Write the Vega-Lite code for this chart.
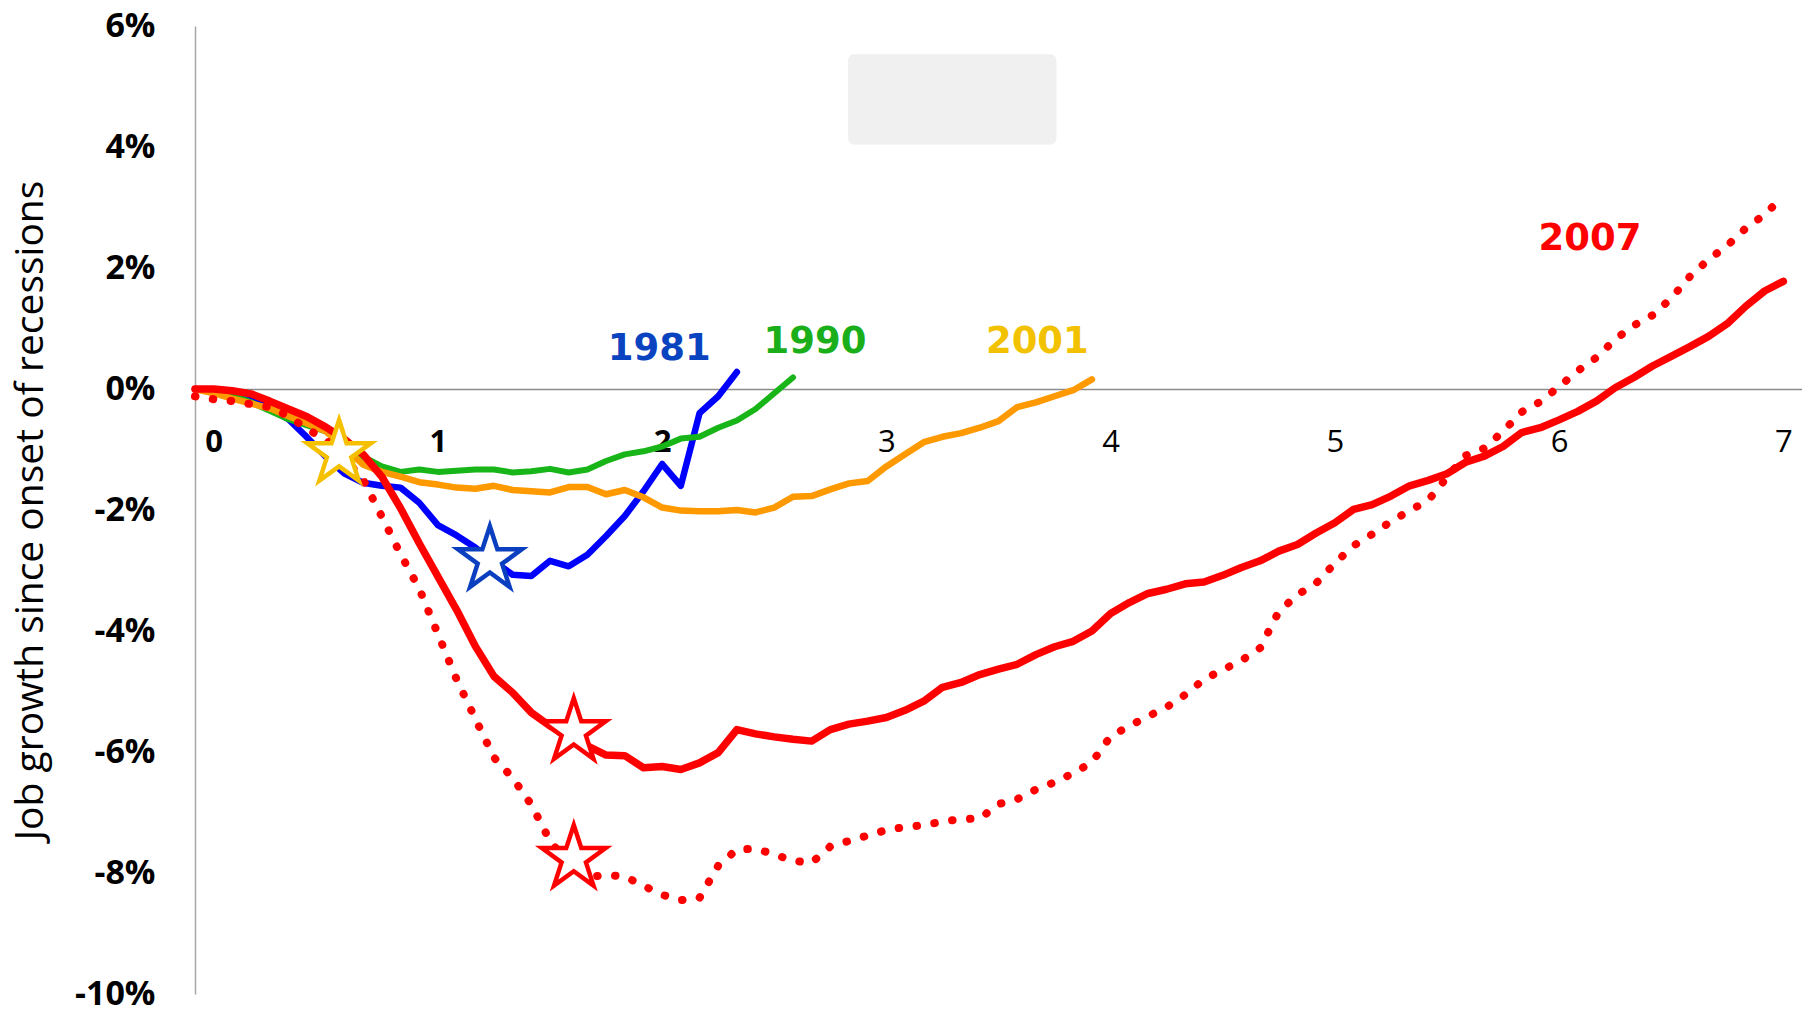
{
  "$schema": "https://vega.github.io/schema/vega-lite/v6.json",
  "width": 1607,
  "height": 968,
  "autosize": {"type": "none"},
  "padding": {"left": 195, "top": 26, "right": 0, "bottom": 19},
  "background": "white",
  "config": {"view": {"stroke": null}, "axis": {"grid": false}},
  "datasets": {
    "box": [{"m": 33.95, "m2": 45.1, "v": 5.531, "v2": 4.043}],
    "r1981": [
      {"m": -1, "v": 0}, {"m": 0, "v": -0.02}, {"m": 1, "v": -0.06}, {"m": 2, "v": -0.12}, {"m": 3, "v": -0.28},
      {"m": 4, "v": -0.5}, {"m": 5, "v": -0.8}, {"m": 6, "v": -1.12}, {"m": 7, "v": -1.4}, {"m": 8, "v": -1.55},
      {"m": 9, "v": -1.6}, {"m": 10, "v": -1.63}, {"m": 11, "v": -1.88}, {"m": 12, "v": -2.25}, {"m": 13, "v": -2.42},
      {"m": 14, "v": -2.62}, {"m": 15, "v": -2.85}, {"m": 16, "v": -3.07}, {"m": 17, "v": -3.09}, {"m": 18, "v": -2.84},
      {"m": 19, "v": -2.93}, {"m": 20, "v": -2.74}, {"m": 21, "v": -2.43}, {"m": 22, "v": -2.1}, {"m": 23, "v": -1.69},
      {"m": 24, "v": -1.24}, {"m": 25, "v": -1.6}, {"m": 26, "v": -0.4}, {"m": 27, "v": -0.12}, {"m": 28, "v": 0.28}
    ],
    "r1990": [
      {"m": -1, "v": 0}, {"m": 0, "v": -0.03}, {"m": 1, "v": -0.1}, {"m": 2, "v": -0.22}, {"m": 3, "v": -0.36},
      {"m": 4, "v": -0.5}, {"m": 5, "v": -0.6}, {"m": 6, "v": -0.7}, {"m": 7, "v": -0.93}, {"m": 8, "v": -1.12},
      {"m": 9, "v": -1.28}, {"m": 10, "v": -1.37}, {"m": 11, "v": -1.33}, {"m": 12, "v": -1.37}, {"m": 13, "v": -1.35},
      {"m": 14, "v": -1.33}, {"m": 15, "v": -1.33}, {"m": 16, "v": -1.38}, {"m": 17, "v": -1.36}, {"m": 18, "v": -1.32},
      {"m": 19, "v": -1.38}, {"m": 20, "v": -1.33}, {"m": 21, "v": -1.19}, {"m": 22, "v": -1.08}, {"m": 23, "v": -1.03},
      {"m": 24, "v": -0.95}, {"m": 25, "v": -0.82}, {"m": 26, "v": -0.79}, {"m": 27, "v": -0.64}, {"m": 28, "v": -0.52},
      {"m": 29, "v": -0.33}, {"m": 30, "v": -0.07}, {"m": 31, "v": 0.19}
    ],
    "r2001": [
      {"m": -1, "v": 0}, {"m": 0, "v": -0.07}, {"m": 1, "v": -0.16}, {"m": 2, "v": -0.24}, {"m": 3, "v": -0.32},
      {"m": 4, "v": -0.45}, {"m": 5, "v": -0.57}, {"m": 6, "v": -0.7}, {"m": 7, "v": -0.97}, {"m": 8, "v": -1.25},
      {"m": 9, "v": -1.37}, {"m": 10, "v": -1.45}, {"m": 11, "v": -1.54}, {"m": 12, "v": -1.58}, {"m": 13, "v": -1.63},
      {"m": 14, "v": -1.65}, {"m": 15, "v": -1.6}, {"m": 16, "v": -1.67}, {"m": 17, "v": -1.69}, {"m": 18, "v": -1.71},
      {"m": 19, "v": -1.62}, {"m": 20, "v": -1.62}, {"m": 21, "v": -1.74}, {"m": 22, "v": -1.67}, {"m": 23, "v": -1.79},
      {"m": 24, "v": -1.96}, {"m": 25, "v": -2.01}, {"m": 26, "v": -2.02}, {"m": 27, "v": -2.02}, {"m": 28, "v": -2.0},
      {"m": 29, "v": -2.04}, {"m": 30, "v": -1.96}, {"m": 31, "v": -1.78}, {"m": 32, "v": -1.77}, {"m": 33, "v": -1.66},
      {"m": 34, "v": -1.56}, {"m": 35, "v": -1.52}, {"m": 36, "v": -1.28}, {"m": 37, "v": -1.08}, {"m": 38, "v": -0.88},
      {"m": 39, "v": -0.79}, {"m": 40, "v": -0.73}, {"m": 41, "v": -0.64}, {"m": 42, "v": -0.53}, {"m": 43, "v": -0.3},
      {"m": 44, "v": -0.22}, {"m": 45, "v": -0.12}, {"m": 46, "v": -0.02}, {"m": 47, "v": 0.16}
    ],
    "r2007dot": [
      {"m": -1, "v": -0.12}, {"m": 0, "v": -0.17}, {"m": 1, "v": -0.2}, {"m": 2, "v": -0.25}, {"m": 3, "v": -0.3},
      {"m": 4, "v": -0.45}, {"m": 5, "v": -0.66}, {"m": 6, "v": -0.84}, {"m": 7, "v": -1.14}, {"m": 8, "v": -1.5},
      {"m": 9, "v": -2.11}, {"m": 10, "v": -2.73}, {"m": 11, "v": -3.3}, {"m": 12, "v": -4.05}, {"m": 13, "v": -4.8},
      {"m": 14, "v": -5.45}, {"m": 15, "v": -6.09}, {"m": 16, "v": -6.43}, {"m": 17, "v": -6.87}, {"m": 18, "v": -7.47},
      {"m": 19, "v": -7.85}, {"m": 20, "v": -8.07}, {"m": 21, "v": -8.03}, {"m": 22, "v": -8.06}, {"m": 23, "v": -8.21},
      {"m": 24, "v": -8.36}, {"m": 25, "v": -8.45}, {"m": 26, "v": -8.41}, {"m": 27, "v": -7.88}, {"m": 28, "v": -7.61},
      {"m": 29, "v": -7.6}, {"m": 30, "v": -7.69}, {"m": 31, "v": -7.8}, {"m": 32, "v": -7.83}, {"m": 33, "v": -7.56},
      {"m": 34, "v": -7.47}, {"m": 35, "v": -7.38}, {"m": 36, "v": -7.29}, {"m": 37, "v": -7.24}, {"m": 38, "v": -7.21},
      {"m": 39, "v": -7.15}, {"m": 40, "v": -7.11}, {"m": 41, "v": -7.1}, {"m": 42, "v": -6.86}, {"m": 43, "v": -6.78},
      {"m": 44, "v": -6.62}, {"m": 45, "v": -6.5}, {"m": 46, "v": -6.35}, {"m": 47, "v": -6.17}, {"m": 48, "v": -5.74},
      {"m": 49, "v": -5.57}, {"m": 50, "v": -5.41}, {"m": 51, "v": -5.26}, {"m": 52, "v": -5.05}, {"m": 53, "v": -4.8},
      {"m": 54, "v": -4.64}, {"m": 55, "v": -4.49}, {"m": 56, "v": -4.28}, {"m": 57, "v": -3.68}, {"m": 58, "v": -3.4},
      {"m": 59, "v": -3.21}, {"m": 60, "v": -2.88}, {"m": 61, "v": -2.59}, {"m": 62, "v": -2.4}, {"m": 63, "v": -2.19},
      {"m": 64, "v": -2.01}, {"m": 65, "v": -1.84}, {"m": 66, "v": -1.46}, {"m": 67, "v": -1.1}, {"m": 68, "v": -0.98},
      {"m": 69, "v": -0.7}, {"m": 70, "v": -0.38}, {"m": 71, "v": -0.21}, {"m": 72, "v": 0.04}, {"m": 73, "v": 0.3},
      {"m": 74, "v": 0.52}, {"m": 75, "v": 0.82}, {"m": 76, "v": 1.05}, {"m": 77, "v": 1.22}, {"m": 78, "v": 1.5},
      {"m": 79, "v": 1.86}, {"m": 80, "v": 2.14}, {"m": 81, "v": 2.37}, {"m": 82, "v": 2.66}, {"m": 83, "v": 2.88},
      {"m": 84, "v": 3.19}
    ],
    "r2007": [
      {"m": -1, "v": 0}, {"m": 0, "v": 0}, {"m": 1, "v": -0.03}, {"m": 2, "v": -0.08}, {"m": 3, "v": -0.2},
      {"m": 4, "v": -0.33}, {"m": 5, "v": -0.46}, {"m": 6, "v": -0.63}, {"m": 7, "v": -0.83}, {"m": 8, "v": -1.08},
      {"m": 9, "v": -1.45}, {"m": 10, "v": -1.97}, {"m": 11, "v": -2.55}, {"m": 12, "v": -3.1}, {"m": 13, "v": -3.65},
      {"m": 14, "v": -4.25}, {"m": 15, "v": -4.75}, {"m": 16, "v": -5.02}, {"m": 17, "v": -5.35}, {"m": 18, "v": -5.57},
      {"m": 19, "v": -5.75}, {"m": 20, "v": -5.9}, {"m": 21, "v": -6.05}, {"m": 22, "v": -6.06}, {"m": 23, "v": -6.26},
      {"m": 24, "v": -6.24}, {"m": 25, "v": -6.29}, {"m": 26, "v": -6.18}, {"m": 27, "v": -6.01}, {"m": 28, "v": -5.63},
      {"m": 29, "v": -5.7}, {"m": 30, "v": -5.75}, {"m": 31, "v": -5.79}, {"m": 32, "v": -5.82}, {"m": 33, "v": -5.63},
      {"m": 34, "v": -5.54}, {"m": 35, "v": -5.49}, {"m": 36, "v": -5.43}, {"m": 37, "v": -5.31}, {"m": 38, "v": -5.16},
      {"m": 39, "v": -4.93}, {"m": 40, "v": -4.85}, {"m": 41, "v": -4.72}, {"m": 42, "v": -4.63}, {"m": 43, "v": -4.55},
      {"m": 44, "v": -4.39}, {"m": 45, "v": -4.26}, {"m": 46, "v": -4.17}, {"m": 47, "v": -4.0}, {"m": 48, "v": -3.71},
      {"m": 49, "v": -3.53}, {"m": 50, "v": -3.38}, {"m": 51, "v": -3.31}, {"m": 52, "v": -3.22}, {"m": 53, "v": -3.19},
      {"m": 54, "v": -3.08}, {"m": 55, "v": -2.95}, {"m": 56, "v": -2.84}, {"m": 57, "v": -2.68}, {"m": 58, "v": -2.57},
      {"m": 59, "v": -2.38}, {"m": 60, "v": -2.21}, {"m": 61, "v": -1.99}, {"m": 62, "v": -1.91}, {"m": 63, "v": -1.77},
      {"m": 64, "v": -1.6}, {"m": 65, "v": -1.51}, {"m": 66, "v": -1.4}, {"m": 67, "v": -1.21}, {"m": 68, "v": -1.11},
      {"m": 69, "v": -0.95}, {"m": 70, "v": -0.72}, {"m": 71, "v": -0.64}, {"m": 72, "v": -0.51}, {"m": 73, "v": -0.37},
      {"m": 74, "v": -0.2}, {"m": 75, "v": 0.02}, {"m": 76, "v": 0.19}, {"m": 77, "v": 0.38}, {"m": 78, "v": 0.54},
      {"m": 79, "v": 0.7}, {"m": 80, "v": 0.87}, {"m": 81, "v": 1.08}, {"m": 82, "v": 1.37}, {"m": 83, "v": 1.62},
      {"m": 84, "v": 1.78}
    ],
    "stars": [
      {"m": 6.71, "v": -1.066, "rec": "2001"},
      {"m": 14.78, "v": -2.822, "rec": "1981"},
      {"m": 19.27, "v": -5.665, "rec": "2007"},
      {"m": 19.27, "v": -7.76, "rec": "2007"}
    ],
    "labels": [
      {"m": 23.84, "v": 0.668, "label": "1981"},
      {"m": 32.18, "v": 0.774, "label": "1990"},
      {"m": 44.08, "v": 0.774, "label": "2001"},
      {"m": 73.66, "v": 2.48, "label": "2007"}
    ]
  },
  "encoding": {
    "x": {
      "field": "m",
      "type": "quantitative",
      "scale": {"domain": [-1, 85], "nice": false, "zero": false},
      "axis": {
        "orient": "bottom",
        "offset": -605,
        "values": [0, 12, 24, 36, 48, 60, 72, 84],
        "labelExpr": "'' + (datum.value / 12)",
        "title": null,
        "ticks": false,
        "tickSize": 0,
        "labelPadding": 53,
        "labelBaseline": "middle",
        "labelFont": "Open Sans",
        "labelFontSize": 31,
        "labelFontWeight": {"condition": {"test": "datum.value <= 24", "value": "bold"}, "value": "normal"},
        "labelColor": "black",
        "labelFlush": false,
        "labelOverlap": false,
        "domainColor": "#8c8c8c",
        "domainWidth": 1.5,
        "grid": false
      }
    },
    "y": {
      "field": "v",
      "type": "quantitative",
      "scale": {"domain": [-10, 6], "nice": false, "zero": false},
      "axis": {
        "orient": "left",
        "values": [-10, -8, -6, -4, -2, 0, 2, 4, 6],
        "labelExpr": "datum.value + '%'",
        "title": "Job growth since onset of recessions",
        "titleFont": "Open Sans",
        "titleFontSize": 39,
        "titleFontWeight": 500,
        "titleColor": "black",
        "titleX": -165,
        "titleY": 484,
        "titleAngle": -90,
        "titleAlign": "center",
        "titleBaseline": "middle",
        "ticks": false,
        "tickSize": 0,
        "labelPadding": 40,
        "labelFont": "Open Sans",
        "labelFontSize": 34,
        "labelFontWeight": "bold",
        "labelColor": "black",
        "labelFlush": false,
        "labelOverlap": false,
        "domainColor": "#a6a6a6",
        "domainWidth": 1.5,
        "grid": false
      }
    }
  },
  "layer": [
    {
      "data": {"name": "box"},
      "mark": {"type": "rect", "color": "#f0f0f0", "cornerRadius": 6},
      "encoding": {"x2": {"field": "m2"}, "y2": {"field": "v2"}}
    },
    {
      "data": {"name": "r1981"},
      "mark": {"type": "line", "color": "#0000ff", "strokeWidth": 6.5, "strokeJoin": "round", "strokeCap": "round"},
      "encoding": {}
    },
    {
      "data": {"name": "r1990"},
      "mark": {"type": "line", "color": "#17b517", "strokeWidth": 6, "strokeJoin": "round", "strokeCap": "round"},
      "encoding": {}
    },
    {
      "data": {"name": "r2001"},
      "mark": {"type": "line", "color": "#ff9900", "strokeWidth": 6.5, "strokeJoin": "round", "strokeCap": "round"},
      "encoding": {}
    },
    {
      "data": {"name": "r2007dot"},
      "mark": {"type": "line", "color": "#ff0000", "strokeWidth": 8, "strokeCap": "round", "strokeJoin": "round", "strokeDash": [0.5, 17.5]},
      "encoding": {}
    },
    {
      "data": {"name": "r2007"},
      "mark": {"type": "line", "color": "#ff0000", "strokeWidth": 7.5, "strokeJoin": "round", "strokeCap": "round"},
      "encoding": {}
    },
    {
      "data": {"name": "stars"},
      "mark": {
        "type": "point",
        "shape": "M0,-1L0.2245,-0.309L0.9511,-0.309L0.3633,0.118L0.5878,0.809L0,0.382L-0.5878,0.809L-0.3633,0.118L-0.9511,-0.309L-0.2245,-0.309Z",
        "filled": true,
        "fill": "white",
        "fillOpacity": 1,
        "strokeWidth": 4.5,
        "strokeOpacity": 1,
        "size": 4500
      },
      "encoding": {
        "stroke": {
          "field": "rec",
          "type": "nominal",
          "scale": {"domain": ["1981", "2001", "2007"], "range": ["#0a3fbf", "#f5c000", "#ff0000"]},
          "legend": null
        }
      }
    },
    {
      "data": {"name": "labels"},
      "mark": {"type": "text", "font": "DejaVu Sans", "fontSize": 37, "fontWeight": "bold", "align": "center", "baseline": "middle"},
      "encoding": {
        "text": {"field": "label"},
        "color": {
          "field": "label",
          "type": "nominal",
          "scale": {"domain": ["1981", "1990", "2001", "2007"], "range": ["#0a43c0", "#1aaf1a", "#f2c200", "#ff0000"]},
          "legend": null
        }
      }
    }
  ]
}
